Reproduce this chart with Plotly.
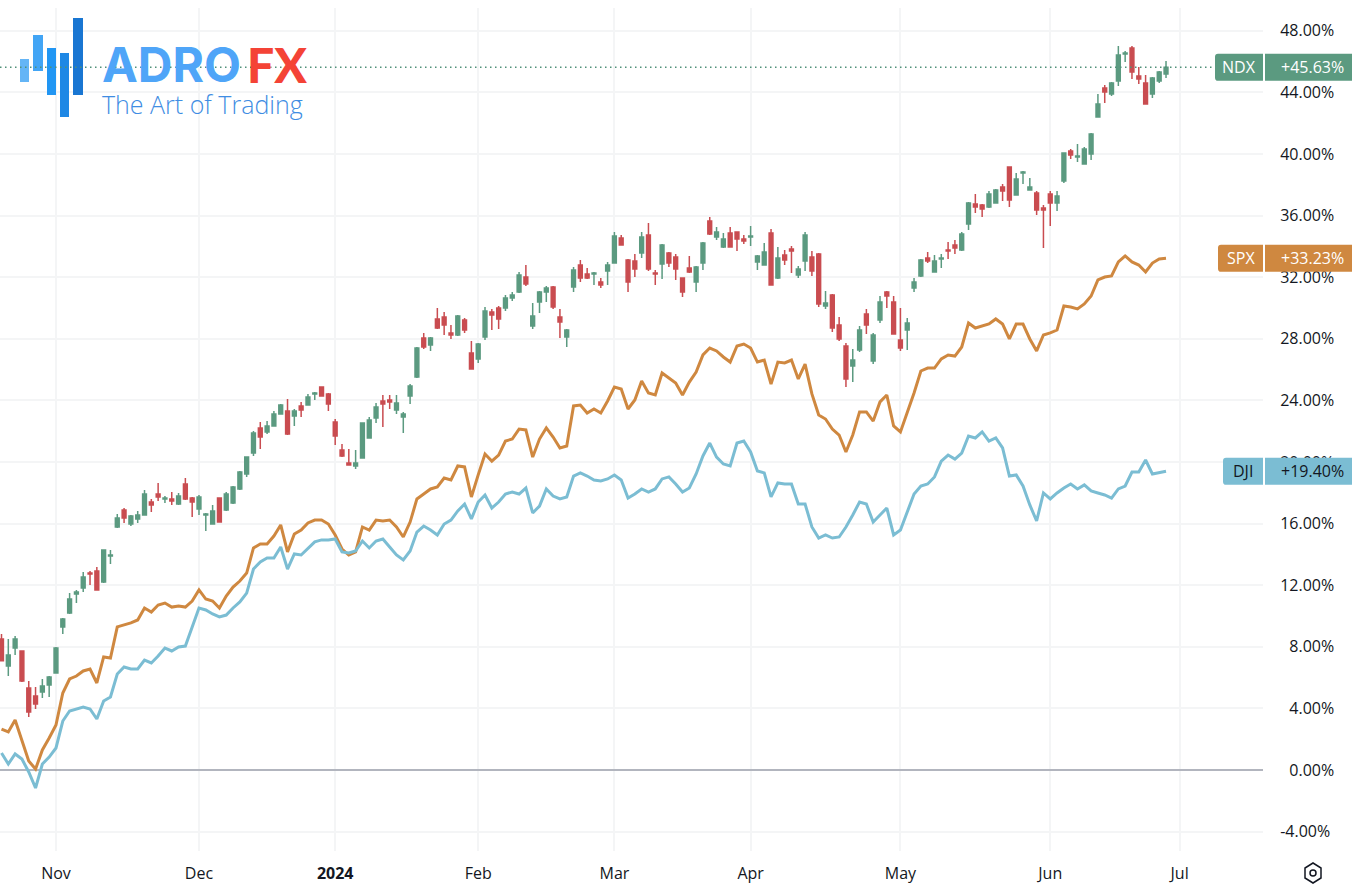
import plotly.graph_objects as go

# session number of each month start, sessions are plain trading days from 20 Oct 2023
month_ticks = [8, 29, 49, 70, 90, 110, 132, 154, 173]
month_labels = ["Nov", "Dec", "<b>2024</b>", "Feb", "Mar", "Apr", "May", "Jun", "Jul"]
pct_ticks = [-4, 0, 4, 8, 12, 16, 20, 24, 28, 32, 36, 40, 44, 48]
pct_labels = ["-4.00%", "\u20070.00%", "\u20074.00%", "\u20078.00%", "12.00%", "16.00%", "20.00%",
              "24.00%", "28.00%", "32.00%", "36.00%", "40.00%", "44.00%", "48.00%"]

ndx_open = [8.51, 6.75, 7.92, 7.73, 5.32, 4.81, 5.06, 5.52, 6.30, 9.29,
            10.19, 11.43, 11.82, 12.79, 12.92, 12.21, 13.90, 15.78, 16.88, 15.97,
            16.30, 16.56, 17.40, 17.92, 17.60, 17.60, 17.27, 18.57, 17.66, 16.95,
            16.56, 15.97, 17.66, 16.88, 17.34, 18.25, 19.22, 20.58, 22.21, 21.95,
            22.34, 23.12, 23.31, 22.99, 23.64, 23.70, 24.42, 24.87, 24.42, 22.60,
            20.78, 19.94, 19.74, 20.26, 21.56, 22.86, 23.96, 24.03, 23.38, 22.92,
            24.29, 25.52, 28.05, 27.60, 29.29, 29.42, 28.38, 28.25, 29.22, 27.08,
            26.69, 28.12, 29.74, 30.00, 30.00, 30.65, 31.04, 32.01, 28.83, 30.39,
            31.04, 31.36, 29.42, 28.12, 31.36, 32.79, 32.21, 32.21, 31.69, 32.40,
            32.92, 34.55, 33.12, 33.05, 33.57, 34.74, 32.27, 32.86, 33.57, 33.31,
            31.95, 32.60, 31.69, 32.92, 35.65, 34.61, 33.96, 34.87, 34.94, 34.48,
            34.61, 32.99, 32.79, 34.87, 31.95, 33.44, 33.83, 32.14, 33.05, 33.31,
            33.51, 30.13, 30.84, 28.90, 27.53, 26.23, 27.27, 29.61, 26.56, 29.22,
            31.04, 30.39, 27.92, 28.57, 31.30, 32.08, 33.25, 32.34, 33.18, 33.77,
            34.09, 33.77, 35.45, 36.75, 36.69, 36.56, 36.82, 37.86, 39.16, 37.34,
            38.77, 37.66, 37.47, 36.49, 37.40, 36.82, 38.25, 40.19, 39.81, 39.35,
            40.00, 42.40, 44.29, 43.90, 44.74, 46.49, 46.88, 45.06, 44.61, 43.90,
            44.74, 45.19]
ndx_high = [8.83, 8.51, 8.70, 7.73, 5.78, 5.39, 5.91, 6.10, 7.99, 9.87,
            11.49, 11.69, 12.86, 12.92, 13.18, 14.29, 14.29, 16.62, 17.01, 16.56,
            16.82, 18.18, 17.60, 18.64, 17.79, 18.05, 17.99, 18.96, 17.73, 17.86,
            16.69, 17.21, 17.66, 18.05, 18.44, 19.42, 20.32, 22.01, 22.60, 22.66,
            23.31, 23.77, 24.09, 23.44, 23.90, 24.42, 24.55, 24.87, 24.48, 22.79,
            21.17, 20.84, 20.78, 22.53, 22.92, 23.83, 24.35, 24.35, 24.35, 23.25,
            25.06, 27.47, 28.38, 28.12, 30.00, 29.74, 28.90, 29.55, 29.35, 27.86,
            27.73, 30.06, 29.94, 30.13, 30.84, 31.04, 32.34, 32.79, 30.32, 31.10,
            31.43, 31.43, 29.94, 28.64, 32.66, 33.12, 32.60, 32.34, 31.95, 32.99,
            34.94, 34.74, 33.18, 33.51, 34.94, 35.52, 32.47, 34.16, 33.64, 33.51,
            31.95, 33.38, 32.73, 34.29, 35.91, 35.26, 34.87, 35.26, 34.94, 34.74,
            35.32, 33.44, 34.22, 35.13, 33.96, 33.77, 34.03, 32.73, 34.94, 33.70,
            33.57, 31.10, 30.91, 29.42, 27.73, 27.34, 28.83, 29.94, 28.38, 30.78,
            31.10, 30.78, 30.00, 29.35, 31.95, 33.18, 33.64, 33.44, 33.51, 34.29,
            34.42, 34.94, 36.88, 37.40, 36.75, 37.60, 37.73, 38.05, 39.16, 38.77,
            38.90, 38.44, 37.60, 36.69, 37.60, 37.60, 40.06, 40.32, 40.65, 40.45,
            41.36, 43.90, 44.48, 44.68, 47.01, 46.69, 47.01, 45.65, 45.13, 45.00,
            45.39, 46.04]
ndx_low = [7.08, 6.10, 7.47, 5.71, 3.44, 3.96, 4.68, 4.74, 6.30, 8.83,
           10.13, 10.84, 11.56, 12.01, 11.69, 12.14, 13.38, 15.71, 16.04, 15.84,
           16.04, 16.56, 16.75, 17.47, 17.34, 17.21, 17.21, 17.53, 16.43, 16.56,
           15.52, 15.97, 16.10, 16.82, 17.27, 18.18, 19.03, 20.39, 20.84, 21.82,
           22.34, 23.12, 21.75, 22.34, 22.92, 23.70, 24.03, 24.29, 23.31, 21.10,
           20.32, 19.81, 19.55, 20.26, 21.56, 22.53, 22.27, 23.44, 23.12, 21.88,
           23.77, 25.45, 27.34, 27.21, 28.64, 28.25, 27.99, 28.18, 28.38, 26.04,
           26.43, 27.92, 28.57, 28.64, 29.81, 30.45, 30.97, 31.43, 28.64, 29.68,
           30.39, 29.94, 28.05, 27.47, 31.04, 31.69, 31.88, 31.49, 31.30, 31.49,
           32.92, 34.09, 31.04, 32.01, 33.25, 32.40, 31.49, 31.88, 32.66, 31.82,
           30.71, 32.27, 31.04, 32.47, 34.74, 34.42, 33.90, 33.96, 33.70, 34.16,
           34.03, 32.47, 32.79, 31.49, 31.88, 32.79, 32.27, 31.95, 32.40, 32.08,
           30.06, 29.94, 28.44, 27.86, 24.87, 25.19, 27.14, 28.31, 26.36, 29.03,
           30.00, 28.31, 27.21, 27.27, 31.04, 32.01, 32.92, 32.34, 32.60, 33.18,
           33.51, 33.70, 35.06, 36.17, 35.91, 36.49, 36.82, 36.95, 36.56, 37.34,
           38.05, 37.66, 36.04, 33.90, 35.32, 36.30, 38.12, 39.68, 39.48, 39.35,
           39.61, 42.40, 43.31, 43.77, 44.42, 45.97, 44.87, 44.55, 43.25, 43.64,
           44.61, 44.94]
ndx_close = [7.10, 7.47, 8.51, 5.78, 3.77, 4.29, 5.45, 6.04, 7.92, 9.81,
             11.10, 11.56, 12.53, 12.73, 11.69, 14.29, 13.96, 16.36, 16.36, 16.49,
             16.56, 17.92, 17.21, 17.73, 17.66, 17.47, 17.79, 17.60, 17.40, 17.73,
             16.62, 16.82, 16.10, 17.92, 18.38, 19.35, 20.32, 21.88, 21.62, 22.34,
             23.12, 23.70, 21.82, 23.31, 23.38, 24.22, 24.48, 24.29, 23.77, 21.69,
             20.39, 19.81, 19.94, 22.53, 22.73, 23.57, 23.77, 23.90, 23.83, 23.12,
             24.94, 27.40, 27.47, 28.05, 28.70, 28.90, 28.25, 29.48, 28.57, 26.04,
             27.66, 29.81, 29.55, 29.29, 30.65, 30.84, 32.14, 31.56, 29.48, 31.04,
             31.30, 30.06, 29.09, 28.57, 32.47, 31.95, 31.95, 32.27, 31.49, 32.79,
             34.68, 34.09, 31.69, 32.53, 34.61, 32.53, 32.21, 34.09, 32.92, 32.53,
             31.04, 32.34, 32.66, 34.22, 34.81, 34.94, 34.48, 33.96, 34.48, 34.35,
             34.68, 33.38, 33.64, 31.49, 33.25, 33.12, 33.70, 32.53, 34.74, 32.40,
             30.26, 30.32, 28.70, 27.99, 25.39, 26.62, 28.57, 28.90, 28.25, 30.39,
             30.78, 28.31, 27.40, 29.03, 31.69, 33.12, 33.05, 33.05, 33.25, 33.70,
             33.90, 34.81, 36.82, 36.56, 36.43, 37.40, 37.66, 37.60, 37.01, 38.38,
             38.83, 37.86, 36.36, 36.36, 36.82, 37.27, 40.06, 39.94, 39.87, 40.32,
             41.30, 43.25, 44.03, 44.61, 46.43, 46.56, 45.32, 44.87, 43.25, 44.94,
             45.32, 45.63]
spx_pct = [2.66, 2.47, 3.25, 1.95, 0.58, 0.06, 1.30, 2.08, 2.92, 5.00,
           5.91, 6.10, 6.43, 6.56, 5.65, 7.34, 7.27, 9.29, 9.42, 9.55,
           9.74, 10.52, 10.26, 10.71, 10.84, 10.58, 10.65, 10.58, 10.97, 11.69,
           11.10, 10.97, 10.52, 11.30, 11.88, 12.27, 12.79, 14.42, 14.68, 14.68,
           15.19, 15.91, 14.16, 15.32, 15.58, 16.04, 16.23, 16.23, 15.97, 15.26,
           14.35, 13.96, 14.16, 15.78, 15.58, 16.23, 16.17, 16.23, 15.78, 15.13,
           16.10, 17.60, 17.92, 18.25, 18.38, 18.96, 18.83, 19.74, 19.68, 17.73,
           19.16, 20.52, 20.06, 20.45, 21.36, 21.49, 22.14, 22.08, 20.32, 21.49,
           22.21, 21.62, 20.91, 21.04, 23.64, 23.70, 23.18, 23.44, 23.18, 23.96,
           24.87, 24.74, 23.44, 24.03, 25.26, 24.48, 24.35, 25.78, 25.45, 25.13,
           24.35, 25.19, 25.84, 26.95, 27.40, 27.21, 26.82, 26.49, 27.53, 27.66,
           27.40, 26.49, 26.62, 25.06, 26.49, 26.43, 26.62, 25.39, 26.36, 24.42,
           23.05, 22.79, 22.14, 21.75, 20.65, 21.75, 23.25, 23.25, 22.66, 23.90,
           24.35, 22.34, 21.95, 23.18, 24.48, 25.91, 26.10, 26.10, 26.69, 26.95,
           26.88, 27.47, 29.03, 28.70, 28.83, 28.96, 29.29, 28.96, 27.99, 28.96,
           28.96, 27.99, 27.21, 28.25, 28.38, 28.57, 30.13, 30.06, 29.94, 30.26,
           30.78, 31.82, 32.01, 32.08, 32.99, 33.38, 32.99, 32.79, 32.34, 32.92,
           33.18, 33.23]
dji_pct = [1.10, 0.39, 1.04, 0.71, -0.13, -1.17, 0.39, 0.84, 1.43, 3.18,
           3.83, 3.96, 4.09, 3.96, 3.31, 4.48, 4.74, 6.23, 6.69, 6.56,
           6.56, 7.14, 6.95, 7.40, 7.92, 7.73, 7.99, 8.05, 9.35, 10.52,
           10.39, 10.13, 9.94, 10.06, 10.52, 10.91, 11.49, 13.05, 13.51, 13.77,
           13.77, 14.48, 13.05, 14.03, 13.96, 14.42, 14.81, 14.94, 14.94, 15.00,
           14.16, 14.09, 14.22, 14.87, 14.42, 14.87, 15.00, 14.48, 13.96, 13.64,
           14.22, 15.45, 15.84, 15.58, 15.26, 15.97, 16.23, 16.82, 17.27, 16.30,
           17.40, 17.86, 17.01, 17.40, 17.92, 18.05, 17.92, 18.31, 16.69, 17.14,
           18.25, 17.79, 17.60, 17.73, 19.09, 19.29, 19.09, 18.83, 18.77, 18.90,
           19.16, 18.83, 17.66, 17.92, 18.25, 18.05, 18.25, 18.90, 19.03, 18.57,
           18.05, 18.31, 19.22, 20.39, 21.23, 20.32, 19.87, 19.74, 21.23, 21.36,
           20.65, 19.42, 19.29, 17.73, 18.64, 18.57, 18.57, 17.27, 17.27, 15.78,
           15.06, 15.26, 15.06, 15.13, 15.78, 16.56, 17.40, 17.27, 16.10, 16.56,
           17.01, 15.26, 15.58, 16.75, 17.92, 18.44, 18.57, 19.03, 20.06, 20.45,
           20.19, 20.58, 21.69, 21.56, 21.95, 21.36, 21.56, 20.91, 19.09, 19.16,
           18.44, 17.21, 16.17, 17.99, 17.60, 17.99, 18.31, 18.57, 18.25, 18.51,
           18.12, 17.99, 17.86, 17.66, 18.25, 18.44, 19.35, 19.35, 20.13, 19.22,
           19.29, 19.40]
sessions = list(range(len(ndx_close)))

GREEN = "#5B9A80"
RED = "#C94C50"
ORANGE = "#CF8840"
BLUE = "#7BBDD3"
INK = "#131722"
GRID = "#F4F5F6"
FONT = "Open Sans"

# plot box in page pixels
W, H = 1354, 892
LEFT, RIGHT, TOP, BOTTOM = 0, 1263, 8, 851


def px_x(x):
    return (x - LEFT) / (RIGHT - LEFT)


def px_y(y):
    return (BOTTOM - y) / (BOTTOM - TOP)


fig = go.Figure()
fig.add_trace(go.Candlestick(
    x=sessions, open=ndx_open, high=ndx_high, low=ndx_low, close=ndx_close,
    increasing=dict(line=dict(color=GREEN, width=1.5), fillcolor=GREEN),
    decreasing=dict(line=dict(color=RED, width=1.5), fillcolor=RED),
    whiskerwidth=0, hoverinfo="skip",
))
fig.add_trace(go.Scatter(x=sessions, y=spx_pct, mode="lines",
                         line=dict(color=ORANGE, width=3), hoverinfo="skip"))
fig.add_trace(go.Scatter(x=sessions, y=dji_pct, mode="lines",
                         line=dict(color=BLUE, width=3), hoverinfo="skip"))

shapes = []
annotations = []

# logo mark
for (x0, x1, y0, y1, col) in [(20, 29, 59, 82, "#64B5F6"), (33, 43, 35, 71, "#42A5F5"),
                              (47, 56, 48, 95, "#2196F3"), (60, 69, 53, 117, "#1E88E5"),
                              (73, 83, 18, 95, "#1976D2")]:
    shapes.append(dict(type="rect", xref="paper", yref="paper", layer="above",
                       x0=px_x(x0), x1=px_x(x1), y0=px_y(y1), y1=px_y(y0),
                       fillcolor=col, line_width=0))
annotations.append(dict(text="ADRO", x=px_x(100), y=px_y(64), xanchor="left", yanchor="middle",
                        font=dict(family="Inter", size=48, color="#4FA5F8", weight=700)))
annotations.append(dict(text="FX", x=px_x(245), y=px_y(64), xanchor="left", yanchor="middle",
                        font=dict(family="Lato", size=48, color="#F44336", weight=900)))
annotations.append(dict(text="The Art of Trading", x=px_x(100), y=px_y(104), xanchor="left", yanchor="middle",
                        font=dict(family=FONT, size=25, color="#3F8DE3", weight=300)))

# price line of the last NDX value
shapes.append(dict(type="line", xref="paper", yref="y", layer="above",
                   x0=0, x1=px_x(1215), y0=ndx_close[-1], y1=ndx_close[-1],
                   line=dict(color="#4F9078", width=1.5, dash="1.5px,3.5px")))


def left_rounded(x0, x1, yc, half, r):
    # half and r are in percent units on y, x in paper
    rx = px_x(x0 + 3)
    l = px_x(x0)
    rt = px_x(x1)
    return (f"M {rx} {yc + half} L {rt} {yc + half} L {rt} {yc - half} L {rx} {yc - half} "
            f"Q {l} {yc - half} {l} {yc - half + r} L {l} {yc + half - r} Q {l} {yc + half} {rx} {yc + half} Z")


# last value tags on the price scale
for name, val, col, txt, x_name in [("NDX", ndx_close[-1], GREEN, "white", 1215),
                                    ("SPX", spx_pct[-1], ORANGE, "white", 1218),
                                    ("DJI", dji_pct[-1], BLUE, INK, 1223)]:
    half = 13.5 / 15.4
    shapes.append(dict(type="path", xref="paper", yref="y", layer="above",
                       path=left_rounded(x_name, 1263, val, half, 0.2),
                       fillcolor=col, line_width=0))
    shapes.append(dict(type="rect", xref="paper", yref="y", layer="above",
                       x0=px_x(1265), x1=px_x(1352), y0=val - half, y1=val + half,
                       fillcolor=col, line_width=0))
    annotations.append(dict(text=name, x=px_x((x_name + 1263) / 2), y=val, yref="y",
                            xanchor="center", yanchor="middle",
                            font=dict(family=FONT, size=16, color=txt)))
    annotations.append(dict(text=f"+{val:.2f}%", x=px_x(1312), y=val, yref="y",
                            xanchor="center", yanchor="middle",
                            font=dict(family=FONT, size=16, color=txt)))

# settings icon, bottom right
hx, hy = 1313, 873
hexagon = [(hx, hy - 10), (hx + 8, hy - 5), (hx + 8, hy + 5), (hx, hy + 10), (hx - 8, hy + 5), (hx - 8, hy - 5)]
hex_path = "M " + " L ".join(f"{px_x(a)} {px_y(b)}" for a, b in hexagon) + " Z"
shapes.append(dict(type="path", xref="paper", yref="paper", path=hex_path,
                   line=dict(color=INK, width=1.5)))
shapes.append(dict(type="circle", xref="paper", yref="paper",
                   x0=px_x(hx - 3), x1=px_x(hx + 3), y0=px_y(hy + 3), y1=px_y(hy - 3),
                   line=dict(color=INK, width=1.5)))

for a in annotations:
    a.setdefault("xref", "paper")
    a.setdefault("yref", "paper")
    a["showarrow"] = False

fig.update_layout(
    width=W, height=H,
    margin=dict(l=LEFT, r=W - RIGHT, t=TOP, b=H - BOTTOM, pad=0),
    paper_bgcolor="white", plot_bgcolor="white",
    showlegend=False, boxgap=0.2,
    shapes=shapes, annotations=annotations,
    font=dict(family=FONT, size=16, color=INK),
    xaxis=dict(
        range=[-0.22, 185.24], rangeslider=dict(visible=False),
        tickmode="array", tickvals=month_ticks, ticktext=month_labels,
        showgrid=True, gridcolor=GRID, gridwidth=1.5, zeroline=False,
        showline=False, ticks="outside", ticklen=8, tickcolor="rgba(0,0,0,0)",
    ),
    yaxis=dict(
        side="right", range=[-5.26, 49.48],
        tickmode="array", tickvals=pct_ticks, ticktext=pct_labels,
        showgrid=True, gridcolor=GRID, gridwidth=1.5,
        zeroline=True, zerolinecolor="#B2B5BE", zerolinewidth=1.5,
        showline=False, ticks="outside", ticklen=13, tickcolor="rgba(0,0,0,0)",
    ),
)

fig.write_html("out.html", config=dict(displayModeBar=False),
               post_script="document.body.style.margin='0';")
